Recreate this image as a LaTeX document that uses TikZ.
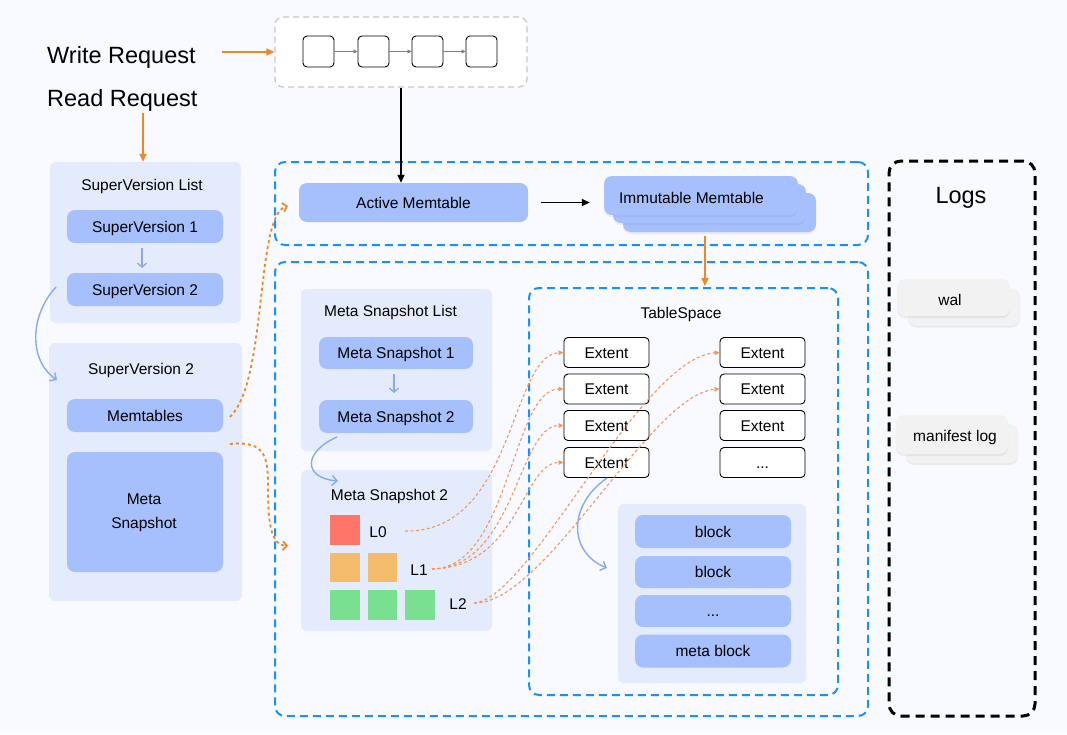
\documentclass[tikz,border=0pt]{standalone}
\usepackage{fontspec}
\setmainfont{Liberation Sans}
\usetikzlibrary{arrows.meta,calc,shadows}
\definecolor{bgc}{RGB}{248,250,255}
\definecolor{panelc}{RGB}{228,235,252}
\definecolor{boxc}{RGB}{165,192,253}
\definecolor{dblue}{RGB}{24,144,255}
\definecolor{oran}{RGB}{240,135,35}
\definecolor{loran}{RGB}{246,150,90}
\definecolor{lblue}{RGB}{135,170,240}
\definecolor{logc}{RGB}{242,242,242}
\definecolor{sqred}{RGB}{255,117,104}
\definecolor{sqor}{RGB}{243,188,106}
\definecolor{sqgr}{RGB}{120,224,143}
\definecolor{qgray}{RGB}{200,200,200}
\newcommand\lblfont{\fontsize{15.5}{18}\selectfont}
\newcommand\bigfnt{\fontsize{23.5}{26}\selectfont}
\begin{document}
\begin{tikzpicture}[x=1pt,y=-1pt,
  panel/.style={fill=panelc, rounded corners=6pt, inner sep=0},
  bbox/.style={fill=boxc, rounded corners=8pt, inner sep=0, font=\lblfont, text height=11pt, text depth=0pt},
  ext/.style={draw=black, fill=white, rounded corners=4pt, line width=0.9pt, minimum width=85pt, minimum height=30pt, inner sep=0, font=\lblfont, text height=11pt, text depth=0pt},
  qsq/.style={draw=black, fill=white, rounded corners=4pt, line width=0.9pt, minimum width=31pt, minimum height=31pt, inner sep=0},
  lvsq/.style={minimum size=30pt, inner sep=0},
  txt/.style={font=\lblfont, inner sep=0, text height=11pt, text depth=0pt},
  bigtxt/.style={font=\bigfnt, inner sep=0, text height=16.8pt, text depth=0pt},
  bdash/.style={draw=dblue, line width=2pt, dash pattern=on 8pt off 5pt, rounded corners=10pt, inner sep=0},
  kdash/.style={draw=black, line width=3pt, dash pattern=on 9pt off 6pt, rounded corners=12pt, inner sep=0},
  qdash/.style={draw=qgray, fill=white, line width=1.3pt, dash pattern=on 6pt off 4pt, rounded corners=8pt, inner sep=0},
  logbox/.style={fill=logc, rounded corners=8pt, inner sep=0, drop shadow={opacity=0.12, shadow xshift=0pt, shadow yshift=-2pt}},
  immbox/.style={fill=boxc, rounded corners=8pt, inner sep=0, drop shadow={opacity=0.12, shadow xshift=0pt, shadow yshift=-2pt}},
  oarr/.style={draw=oran, line width=1.5pt, -{Triangle[length=8pt,width=7pt]}},
  karr/.style={draw=black, line width=1.3pt, -{Triangle[length=8pt,width=7pt]}},
  garr/.style={draw=gray, line width=0.8pt, -{Triangle[length=4pt,width=4pt]}},
  bcur/.style={draw=lblue, line width=1.4pt, -{Straight Barb[length=5pt,width=10pt]}},
  bsmall/.style={draw=lblue, line width=1.3pt, -{Straight Barb[length=4pt,width=9pt]}},
  odot/.style={draw=oran, line width=1.8pt, dash pattern=on 3pt off 3pt, -{Straight Barb[length=4pt,width=9pt]}},
  othin/.style={draw=loran, line width=1.1pt, dash pattern=on 3pt off 2.5pt, -{Triangle[length=5pt,width=4.5pt]}}
]
\fill[bgc] (0,0) rectangle (1067,734);
\useasboundingbox (0,0) rectangle (1067,734);

% requests and queue
\node[bigtxt, anchor=west] (wr) at (47,54.7) {Write Request};
\node[bigtxt, anchor=west] (rr) at (47,98) {Read Request};
\node[qdash, minimum width=252pt, minimum height=70pt] (queue) at (401,52) {};
\node[qsq] (q1) at (318.5,51.5) {};
\node[qsq] (q2) at (373.5,51.5) {};
\node[qsq] (q3) at (427.5,51.5) {};
\node[qsq] (q4) at (481.5,51.5) {};
\draw[garr] (q1.east) -- (q2.west);
\draw[garr] (q2.east) -- (q3.west);
\draw[garr] (q3.east) -- (q4.west);
\coordinate (wrs) at (222,52);
\draw[oarr] (wrs) -- (queue.west);

% containers
\node[bdash, minimum width=593pt, minimum height=83pt] (topc) at (571.5,203.5) {};
\node[bdash, minimum width=593pt, minimum height=454pt] (botc) at (571.5,489) {};
\node[kdash, minimum width=146pt, minimum height=555pt] (logs) at (962,438.5) {};

% SuperVersion list
\node[panel, minimum width=191pt, minimum height=161pt] (svlist) at (145.5,242.5) {};
\node[txt] (svlt) at (142,185) {SuperVersion List};
\node[bbox, minimum width=156pt, minimum height=33pt] (sv1) at (145,226.5) {SuperVersion 1};
\node[bbox, minimum width=156pt, minimum height=33pt] (sv2) at (145,289.5) {SuperVersion 2};
\coordinate (sva) at (142,248);
\coordinate (svb) at (142,268);
\draw[bsmall] (sva) -- (svb);
\coordinate (rrs) at (143,113);
\draw[oarr] (rrs) -- (rrs |- svlist.north);

% SuperVersion 2 panel
\node[panel, minimum width=193pt, minimum height=258pt] (svp) at (145.5,472) {};
\node[txt] (svpt) at (141,368.5) {SuperVersion 2};
\node[bbox, minimum width=156pt, minimum height=33pt] (memt) at (145,415.5) {Memtables};
\node[bbox, minimum width=156pt, minimum height=120pt] (msnap) at (145,512) {};
\node[txt] (msnapt1) at (144,499) {Meta};
\node[txt] (msnapt2) at (144,523) {Snapshot};
\coordinate (svc1) at (56,287);
\coordinate (svc2) at (57,380);
\draw[bcur] (svc1) .. controls (30,315) and (28,360) .. (svc2);

% memtables
\node[bbox, minimum width=229pt, minimum height=39pt] (am) at (413.5,202.5) {Active Memtable};
\draw[karr] (queue.south) -- (queue.south |- am.north);
\node[immbox, minimum width=193pt, minimum height=39pt] (imm3) at (719.5,212.5) {};
\node[immbox, minimum width=193pt, minimum height=39pt] (imm2) at (709.5,203.5) {};
\node[immbox, minimum width=194pt, minimum height=39pt] (imm1) at (701,195.5) {};
\node[txt] (immt) at (691.5,197.5) {Immutable Memtable};
\draw[karr, shorten <=13pt, shorten >=14pt] (am.east) -- (am.east -| imm1.west);
\coordinate (imms) at (705,236);
\coordinate (tsn) at (705,286);
\draw[oarr] (imms) -- (tsn);

% orange dotted from SuperVersion 2
\coordinate (mts) at (230,417);
\coordinate (amt) at (288,206);
\draw[odot] (mts) .. controls (268,380) and (255,215) .. (amt);
\coordinate (mss) at (230,444);
\coordinate (mst) at (288,546);
\draw[odot] (mss) .. controls (268,440) and (268,460) .. (268,490) .. controls (268,530) and (273,545) .. (mst);

% Meta Snapshot list
\node[panel, minimum width=191pt, minimum height=162pt] (msl) at (396.5,370) {};
\node[txt] (mslt) at (390.5,311.3) {Meta Snapshot List};
\node[bbox, minimum width=154pt, minimum height=32pt] (ms1) at (396,353) {Meta Snapshot 1};
\node[bbox, minimum width=154pt, minimum height=33pt] (ms2) at (396,416.5) {Meta Snapshot 2};
\coordinate (msa) at (394,374);
\coordinate (msb) at (394,393);
\draw[bsmall] (msa) -- (msb);

% Meta Snapshot 2 panel
\node[panel, minimum width=191pt, minimum height=161pt] (msp) at (396.5,550.5) {};
\node[txt] (mspt) at (389.5,494.5) {Meta Snapshot 2};
\coordinate (msc1) at (337,437);
\coordinate (msc2) at (338,481);
\draw[bcur] (msc1) .. controls (303,452) and (303,478) .. (msc2);
\node[lvsq, fill=sqred] (r1) at (345,530) {};
\node[txt] (l0) at (378,531.5) {L0};
\node[lvsq, fill=sqor, minimum width=30pt, minimum height=29pt] (o1) at (345,567.5) {};
\node[lvsq, fill=sqor, minimum width=29pt, minimum height=29pt] (o2) at (382.5,567.5) {};
\node[txt] (l1) at (419,570) {L1};
\node[lvsq, fill=sqgr] (g1) at (345,605) {};
\node[lvsq, fill=sqgr, minimum width=29pt] (g2) at (382.5,605) {};
\node[lvsq, fill=sqgr] (g3) at (420,605) {};
\node[txt] (l2) at (458,603.7) {L2};

% TableSpace
\node[bdash, minimum width=309pt, minimum height=407pt] (ts) at (683.5,491.5) {};
\node[txt] (tst) at (681,312.5) {TableSpace};
\node[ext] (e1) at (606.5,352.5) {Extent};
\node[ext] (e2) at (606.5,389) {Extent};
\node[ext] (e3) at (606.5,425.5) {Extent};
\node[ext] (e4) at (606.5,462.5) {Extent};
\node[ext] (f1) at (762.5,352.5) {Extent};
\node[ext] (f2) at (762.5,389) {Extent};
\node[ext] (f3) at (762.5,425.5) {Extent};
\node[ext] (f4) at (762.5,462.5) {...};
\node[panel, minimum width=188pt, minimum height=179pt] (blp) at (712,593.5) {};
\node[bbox, minimum width=156pt, minimum height=33pt] (b1) at (713,531.5) {block};
\node[bbox, minimum width=156pt, minimum height=32pt] (b2) at (713,572) {block};
\node[bbox, minimum width=156pt, minimum height=32pt] (b3) at (713,611) {...};
\node[bbox, minimum width=156pt, minimum height=33pt] (b4) at (713,651) {meta block};
\coordinate (ec1) at (607,478);
\coordinate (ec2) at (607,568);
\draw[bcur] (ec1) .. controls (568,505) and (568,552) .. (ec2);

% level to extent connectors
\coordinate (l0s) at (405,531);
\coordinate (l1s) at (432,569);
\coordinate (l2s) at (474,603);
\draw[othin] (l0s) .. controls (515,533) and (510,355) .. (e1.west);
\draw[othin] (l1s) .. controls (510,568) and (512,389) .. (e2.west);
\draw[othin] (l1s) .. controls (515,568) and (518,425.5) .. (e3.west);
\draw[othin] (l1s) .. controls (520,567) and (522,462.5) .. (e4.west);
\draw[othin] (l2s) .. controls (530,600) and (640,358) .. (f1.west);
\draw[othin] (l2s) .. controls (545,605) and (650,394) .. (f2.west);

% Logs
\node[bigtxt] (logt) at (961,195) {Logs};
\node[logbox, minimum width=112pt, minimum height=37pt] (wal2) at (964,307) {};
\node[logbox, minimum width=113pt, minimum height=37pt] (wal1) at (953.5,297.5) {};
\node[txt] (walt) at (950,300) {wal};
\node[logbox, minimum width=112pt, minimum height=39pt] (man2) at (962,443.5) {};
\node[logbox, minimum width=112pt, minimum height=39pt] (man1) at (952,434.5) {};
\node[txt] (mant) at (955,436) {manifest log};
\end{tikzpicture}
\end{document}
